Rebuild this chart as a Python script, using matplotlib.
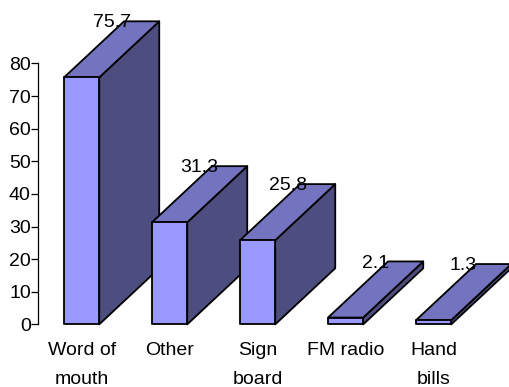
#!/usr/bin/env python3
"""Pseudo-3D bar chart of how people heard about the service (percent)."""
import matplotlib
matplotlib.use("Agg")
import matplotlib.pyplot as plt
from matplotlib.patches import Polygon

CATEGORIES = ["Word of\nmouth", "Other", "Sign\nboard", "FM radio", "Hand\nbills"]
VALUES = [75.7, 31.3, 25.8, 2.1, 1.3]
YTICKS = [0, 10, 20, 30, 40, 50, 60, 70, 80]

FRONT, TOP, SIDE = "#9999FF", "#7373BF", "#4D4D80"
W, H = 510, 387
BAR_W = 0.40
DX, DY = 0.682, 17.2  # depth offset in data units
FS = 14

plt.rcParams["font.family"] = ["Liberation Sans", "DejaVu Sans"]

fig = plt.figure(figsize=(W / 100, H / 100), dpi=100)
ax = fig.add_axes([38.5 / W, 1 - 324.4 / H, 440 / W, 261 / H])
ax.set_xlim(-0.49, 4.51)
ax.set_ylim(0, 80)

for i, v in enumerate(VALUES):
    l, r = i - BAR_W / 2, i + BAR_W / 2
    faces = [
        ([(r, 0), (r + DX, DY), (r + DX, v + DY), (r, v)], SIDE),
        ([(l, v), (r, v), (r + DX, v + DY), (l + DX, v + DY)], TOP),
        ([(l, 0), (r, 0), (r, v), (l, v)], FRONT),
    ]
    for pts, col in faces:
        ax.add_patch(Polygon(pts, closed=True, facecolor=col, edgecolor="black",
                             lw=1.3, joinstyle="round", clip_on=False, zorder=2 + i))
    # value sits on the back edge of the top face
    ax.text(i + 0.34, v + DY - 0.5, f"{v}", ha="center", va="center", fontsize=FS,
            color="black", clip_on=False, zorder=20)

for s in ["top", "right", "bottom"]:
    ax.spines[s].set_visible(False)
ax.spines["left"].set_linewidth(0.9)
ax.set_yticks(YTICKS)
ax.tick_params(axis="y", length=5, width=0.9, pad=0.5, labelsize=FS)
ax.set_xticks(range(len(CATEGORIES)))
ax.set_xticklabels(CATEGORIES, fontsize=FS, linespacing=1.95, va="top")
ax.tick_params(axis="x", length=0, pad=12.5)

fig.savefig("out.png", dpi=100)
